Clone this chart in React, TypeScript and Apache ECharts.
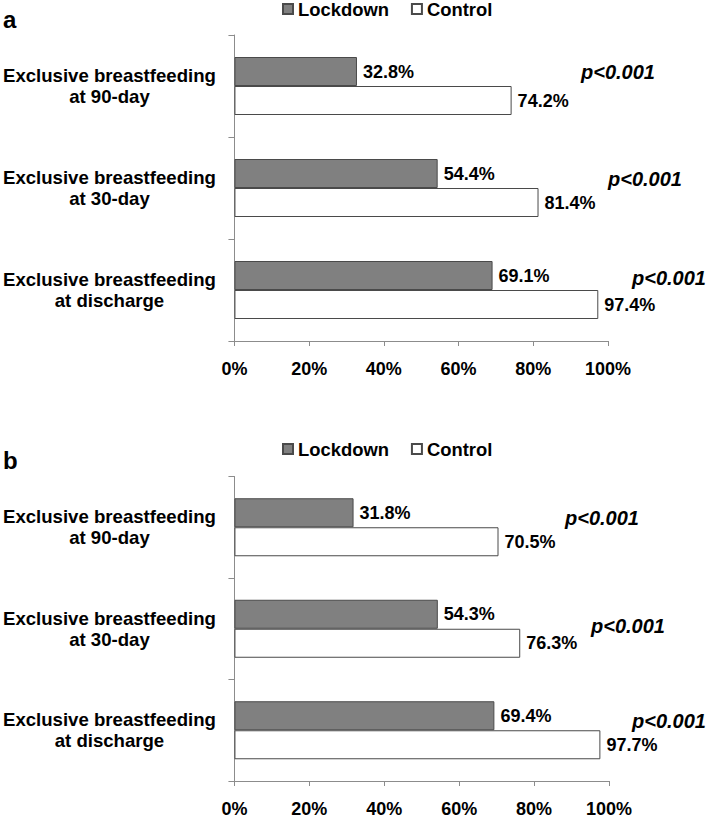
import React, { useEffect, useRef } from "react";
import * as echarts from "echarts";

const categories = [
  "Exclusive breastfeeding\nat 90-day",
  "Exclusive breastfeeding\nat 30-day",
  "Exclusive breastfeeding\nat discharge",
];
const seriesNames = ["Lockdown", "Control"];
const lockdownA = [32.8, 54.4, 69.1];
const controlA = [74.2, 81.4, 97.4];
const lockdownB = [31.8, 54.3, 69.4];
const controlB = [70.5, 76.3, 97.7];
const pValuesA = ["p<0.001", "p<0.001", "p<0.001"];
const pValuesB = ["p<0.001", "p<0.001", "p<0.001"];
const panelLetters = ["a", "b"];
const xTicks = { min: 0, max: 100, interval: 20 };

const FONT = "'Liberation Sans', Arial, sans-serif";
const AXIS_GRAY = "#8c8c8c";

export default function App() {
  const ref = useRef<HTMLDivElement>(null);
  useEffect(() => {
    if (!ref.current) return;
    const chart = echarts.init(ref.current, undefined, { renderer: "svg" });

    const grids = [
      { left: 233, top: 35, width: 375, height: 306 },
      { left: 233.5, top: 476.5, width: 375.5, height: 305 },
    ];
    const pPos = [
      [
        [581, 72],
        [608, 179],
        [632, 277.5],
      ],
      [
        [565, 518],
        [591, 626],
        [632, 721],
      ],
    ];
    const letterPos = [
      [3, 19],
      [3, 460.5],
    ];

    const xAxisCfg = (gi: number) => ({
      type: "value",
      gridIndex: gi,
      min: xTicks.min,
      max: xTicks.max,
      interval: xTicks.interval,
      splitLine: { show: false },
      axisLine: { show: true, lineStyle: { color: AXIS_GRAY, width: 1 } },
      axisTick: { show: true, length: 5, lineStyle: { color: AXIS_GRAY } },
      axisLabel: {
        formatter: "{value}%",
        color: "#000",
        fontFamily: FONT,
        fontWeight: "bold",
        fontSize: 18,
        margin: 19,
      },
    });
    const yAxisCfg = (gi: number) => ({
      type: "category",
      gridIndex: gi,
      inverse: true,
      data: categories,
      axisLine: { show: true, lineStyle: { color: AXIS_GRAY, width: 1 } },
      axisTick: { show: true, length: 6, lineStyle: { color: AXIS_GRAY } },
      axisLabel: {
        color: "#000",
        fontFamily: FONT,
        fontWeight: "bold",
        fontSize: 18.6,
        lineHeight: 21,
        align: "center",
        margin: 125,
      },
    });

    const labelCfg = {
      show: true,
      position: "right",
      distance: 6,
      color: "#000",
      fontFamily: FONT,
      fontWeight: "bold",
      fontSize: 18,
      formatter: (p: any) => p.value.toFixed(1) + "%",
    };
    const lockStyle = { color: "#808080", borderColor: "#4a4a4a", borderWidth: 1 };
    const ctrlStyle = { color: "#ffffff", borderColor: "#4a4a4a", borderWidth: 1 };

    const mkSeries = (gi: number, lock: number[], ctrl: number[]) => [
      {
        name: seriesNames[0],
        type: "bar",
        xAxisIndex: gi,
        yAxisIndex: gi,
        data: lock,
        barWidth: 29,
        barGap: "0%",
        itemStyle: lockStyle,
        label: labelCfg,
      },
      {
        name: seriesNames[1],
        type: "bar",
        xAxisIndex: gi,
        yAxisIndex: gi,
        data: ctrl,
        barWidth: 29,
        barGap: "0%",
        itemStyle: ctrlStyle,
        label: labelCfg,
      },
    ];

    const legendCfg = (top: number) => ({
      top,
      left: 282,
      padding: 0,
      icon: "rect",
      itemWidth: 10,
      itemHeight: 10,
      itemGap: 22,
      data: seriesNames,
      selectedMode: false,
      textStyle: {
        color: "#000",
        fontFamily: FONT,
        fontWeight: "bold",
        fontSize: 18.4,
      },
    });

    const graphics: any[] = [];
    [pValuesA, pValuesB].forEach((arr, gi) => {
      arr.forEach((t, i) => {
        graphics.push({
          type: "text",
          x: pPos[gi][i][0],
          y: pPos[gi][i][1],
          style: {
            text: t,
            fill: "#000",
            font: `italic bold 20px ${FONT}`,
            verticalAlign: "middle",
            align: "left",
          },
        });
      });
    });
    panelLetters.forEach((l, gi) => {
      graphics.push({
        type: "text",
        x: letterPos[gi][0],
        y: letterPos[gi][1],
        style: {
          text: l,
          fill: "#000",
          font: `bold 24px ${FONT}`,
          verticalAlign: "middle",
          align: "left",
        },
      });
    });

    chart.setOption({
      animation: false,
      backgroundColor: "#fff",
      grid: grids,
      xAxis: [xAxisCfg(0), xAxisCfg(1)],
      yAxis: [yAxisCfg(0), yAxisCfg(1)],
      legend: [legendCfg(0), legendCfg(440)],
      series: [...mkSeries(0, lockdownA, controlA), ...mkSeries(1, lockdownB, controlB)],
      graphic: graphics,
    });
    return () => chart.dispose();
  }, []);
  return (
    <div
      ref={ref}
      style={{ position: "fixed", left: 0, top: 0, width: 709, height: 818, background: "#fff" }}
    />
  );
}
